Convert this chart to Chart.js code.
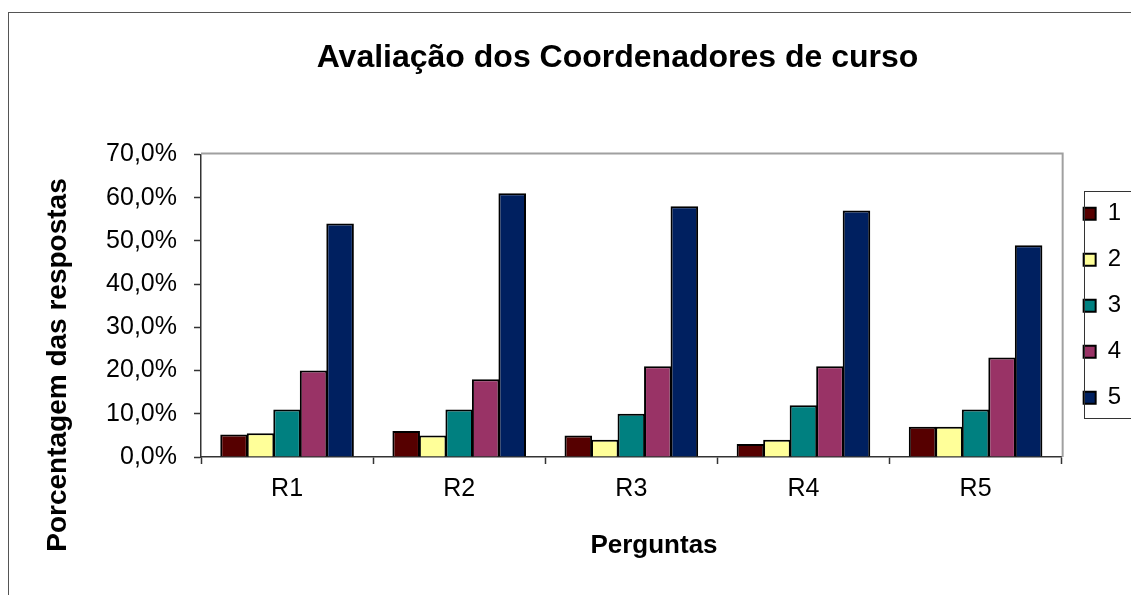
<!DOCTYPE html>
<html>
<head>
<meta charset="utf-8">
<script src="https://cdn.jsdelivr.net/npm/chart.js@4.4.1/dist/chart.umd.min.js"></script>
<style>
  html, body { margin: 0; padding: 0; background: #fff; }
</style>
</head>
<body>
<canvas id="chart" width="1131" height="595"></canvas>
<script>
const perguntas = ['R1', 'R2', 'R3', 'R4', 'R5'];
const notas = ['1', '2', '3', '4', '5'];
const nota1 = [5.2, 6, 5, 3, 7];
const nota2 = [5.5, 5, 4, 4, 7];
const nota3 = [11, 11, 10, 12, 11];
const nota4 = [20, 18, 21, 21, 23];
const nota5 = [54, 61, 58, 57, 49];
const yTicks = [0, 10, 20, 30, 40, 50, 60, 70];
const cores = ['#560000', '#ffff99', '#008080', '#993366', '#002060'];

const tituloX = 'Perguntas';
const tituloY = 'Porcentagem das respostas';

const fonte = "'Liberation Sans', Arial, sans-serif";
Chart.defaults.font.family = fonte;
Chart.defaults.color = '#000';

// frame, plot border, legend box and the axis titles (placed like the Excel original)
const moldura = {
    id: 'moldura',
    afterLayout(chart) {
        // title is centred a bit left of the plot area in the original
        chart.titleBlock.left = 104;
        chart.titleBlock.right = 1131;
    },
    beforeDraw(chart) {
        const c = chart.ctx;
        c.save();
        c.fillStyle = '#fff';
        c.fillRect(0, 0, chart.width, chart.height);
        c.strokeStyle = '#555';
        c.lineWidth = 1;
        c.strokeRect(8.5, 12.5, 1200, 700);
        c.restore();
    },
    afterDraw(chart) {
        const c = chart.ctx;
        const a = chart.chartArea;
        c.save();
        c.strokeStyle = '#a0a0a0';
        c.lineWidth = 2;
        c.beginPath();
        c.moveTo(a.left, a.top - 1);
        c.lineTo(a.right + 1, a.top - 1);
        c.lineTo(a.right + 1, a.bottom);
        c.stroke();

        const hb = chart.legend.legendHitBoxes;
        if (hb && hb.length) {
            const first = hb[0].top + hb[0].height / 2;
            const last = hb[hb.length - 1].top + hb[hb.length - 1].height / 2;
            c.strokeStyle = '#333';
            c.lineWidth = 1;
            c.strokeRect(1084.5, Math.round(first - 23) + 0.5, 100, Math.round(last - first + 43));
        }

        // axis titles
        c.fillStyle = '#000';
        c.textAlign = 'center';
        c.textBaseline = 'middle';
        c.font = 'bold 26px ' + fonte;
        c.fillText(tituloX, 654, 546);
        c.translate(58, 365);
        c.rotate(-Math.PI / 2);
        c.font = 'bold 28px ' + fonte;
        c.fillText(tituloY, 0, 0);
        c.restore();
    }
};

const series = [nota1, nota2, nota3, nota4, nota5];

new Chart(document.getElementById('chart'), {
    type: 'bar',
    data: {
        labels: perguntas,
        datasets: series.map((vals, i) => ({
            label: notas[i],
            data: vals,
            backgroundColor: cores[i],
            borderColor: '#000',
            borderWidth: 2,
            categoryPercentage: 0.77,
            barPercentage: 1.04 // slight overlap so neighbours share one black edge
        }))
    },
    options: {
        responsive: false,
        animation: false,
        layout: { padding: { left: 20, right: 0, top: 0, bottom: 0 } },
        plugins: {
            title: {
                display: true,
                text: 'Avaliação dos Coordenadores de curso',
                font: { size: 32, weight: 'bold' },
                color: '#000',
                padding: { top: 39, bottom: 77 }
            },
            legend: {
                position: 'right',
                fullSize: false,
                labels: {
                    boxWidth: 12,
                    boxHeight: 12,
                    padding: 22,
                    font: { size: 24 },
                    color: '#000'
                }
            },
            tooltip: { enabled: false }
        },
        scales: {
            x: {
                afterFit: s => { s.height = 138; },
                grid: {
                    display: true,
                    drawOnChartArea: false,
                    drawTicks: true,
                    tickLength: 7,
                    tickColor: '#333',
                    tickWidth: 1.5
                },
                border: { color: '#333', width: 1.5 },
                ticks: { padding: 10, font: { size: 25 }, color: '#000' },
                title: { display: false }
            },
            y: {
                min: 0,
                max: 70,
                afterFit: s => { s.width = 181; },
                afterBuildTicks: s => { s.ticks = yTicks.map(v => ({ value: v })); },
                grid: {
                    display: true,
                    drawOnChartArea: false,
                    drawTicks: true,
                    tickLength: 7,
                    tickColor: '#333',
                    tickWidth: 1.5
                },
                border: { color: '#333', width: 1.5 },
                ticks: {
                    padding: 17,
                    font: { size: 25 },
                    color: '#000',
                    callback: v => v.toFixed(1).replace('.', ',') + '%'
                },
                title: { display: false }
            }
        }
    },
    plugins: [moldura]
});
</script>
</body>
</html>
